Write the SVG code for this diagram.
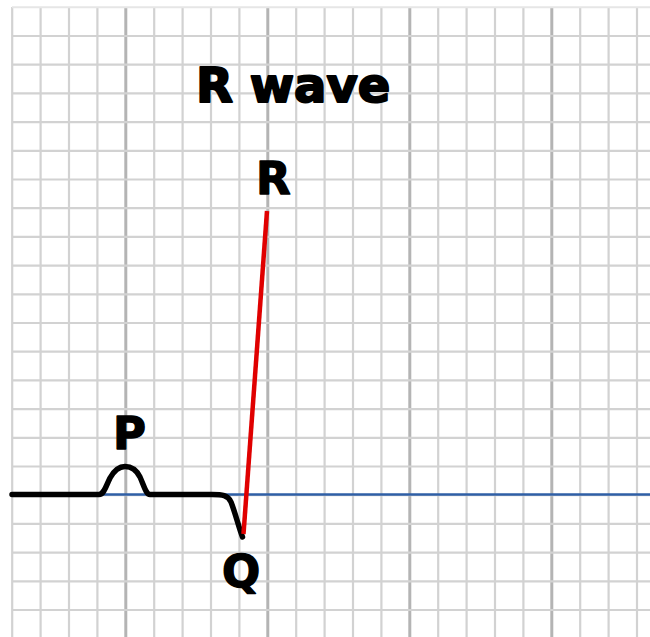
<svg xmlns="http://www.w3.org/2000/svg" width="650" height="637" viewBox="0 0 650 637">
<style>
.minor{stroke:#d2d2d2;stroke-width:2.2;fill:none}
.major{stroke:#b4b4b4;stroke-width:3;fill:none}
.lbl{font-family:"DejaVu Sans",sans-serif;font-weight:bold;fill:#000;stroke:#000;stroke-width:1.4;stroke-linejoin:round}
</style>
<rect width="650" height="637" fill="#fff"/>
<g id="grid">
<path class="minor" d="M12.2 7V637M40.6 7V637M69 7V637M97.4 7V637M154.2 7V637M182.6 7V637M211 7V637M239.4 7V637M296.2 7V637M324.6 7V637M353 7V637M381.4 7V637M438.2 7V637M466.6 7V637M495 7V637M523.4 7V637M580.2 7V637M608.6 7V637M637 7V637"/>
<path class="major" d="M125.8 7V637M267.8 7V637M409.8 7V637M551.8 7V637"/>
<path d="M12 7.3H650" stroke="#e6e6e6" stroke-width="2"/>
<path class="minor" d="M12 36H650M12 64.7H650M12 93.4H650M12 122.1H650M12 150.8H650M12 179.5H650M12 208.2H650M12 236.9H650M12 265.6H650M12 294.3H650M12 323H650M12 351.7H650M12 380.4H650M12 409.1H650M12 437.8H650M12 466.5H650M12 495.2H650M12 523.9H650M12 552.6H650M12 581.3H650M12 610H650"/>
</g>
<g id="baseline">
<path d="M12 494.5H650" stroke="#2f5fa6" stroke-width="2.5"/>
</g>
<g id="title">
<text class="lbl" x="196" y="102" font-size="48" style="stroke-width:2">R wave</text>
</g>
<g id="connectors">
<path id="ecg-black" d="M12 494.5H99C104 494.5 106 486 110 478C115 469 121 466.5 125 466.5C130 466.5 136 469 140 477C144 486 146 494.5 150 494.5H212C222 494.5 228 495 231 502C235 512 239 528 242.5 537" fill="none" stroke="#000" stroke-width="5.5" stroke-linecap="round" stroke-linejoin="round"/>
<path id="r-wave" d="M243.5 534L267 211" fill="none" stroke="#e00000" stroke-width="4.5" stroke-linecap="butt"/>
</g>
<g id="label-P"><text class="lbl" x="113" y="449" font-size="45">P</text></g>
<g id="label-R"><text class="lbl" x="256" y="194" font-size="45">R</text></g>
<g id="label-Q"><text class="lbl" x="222" y="587" font-size="45">Q</text></g>
</svg>
